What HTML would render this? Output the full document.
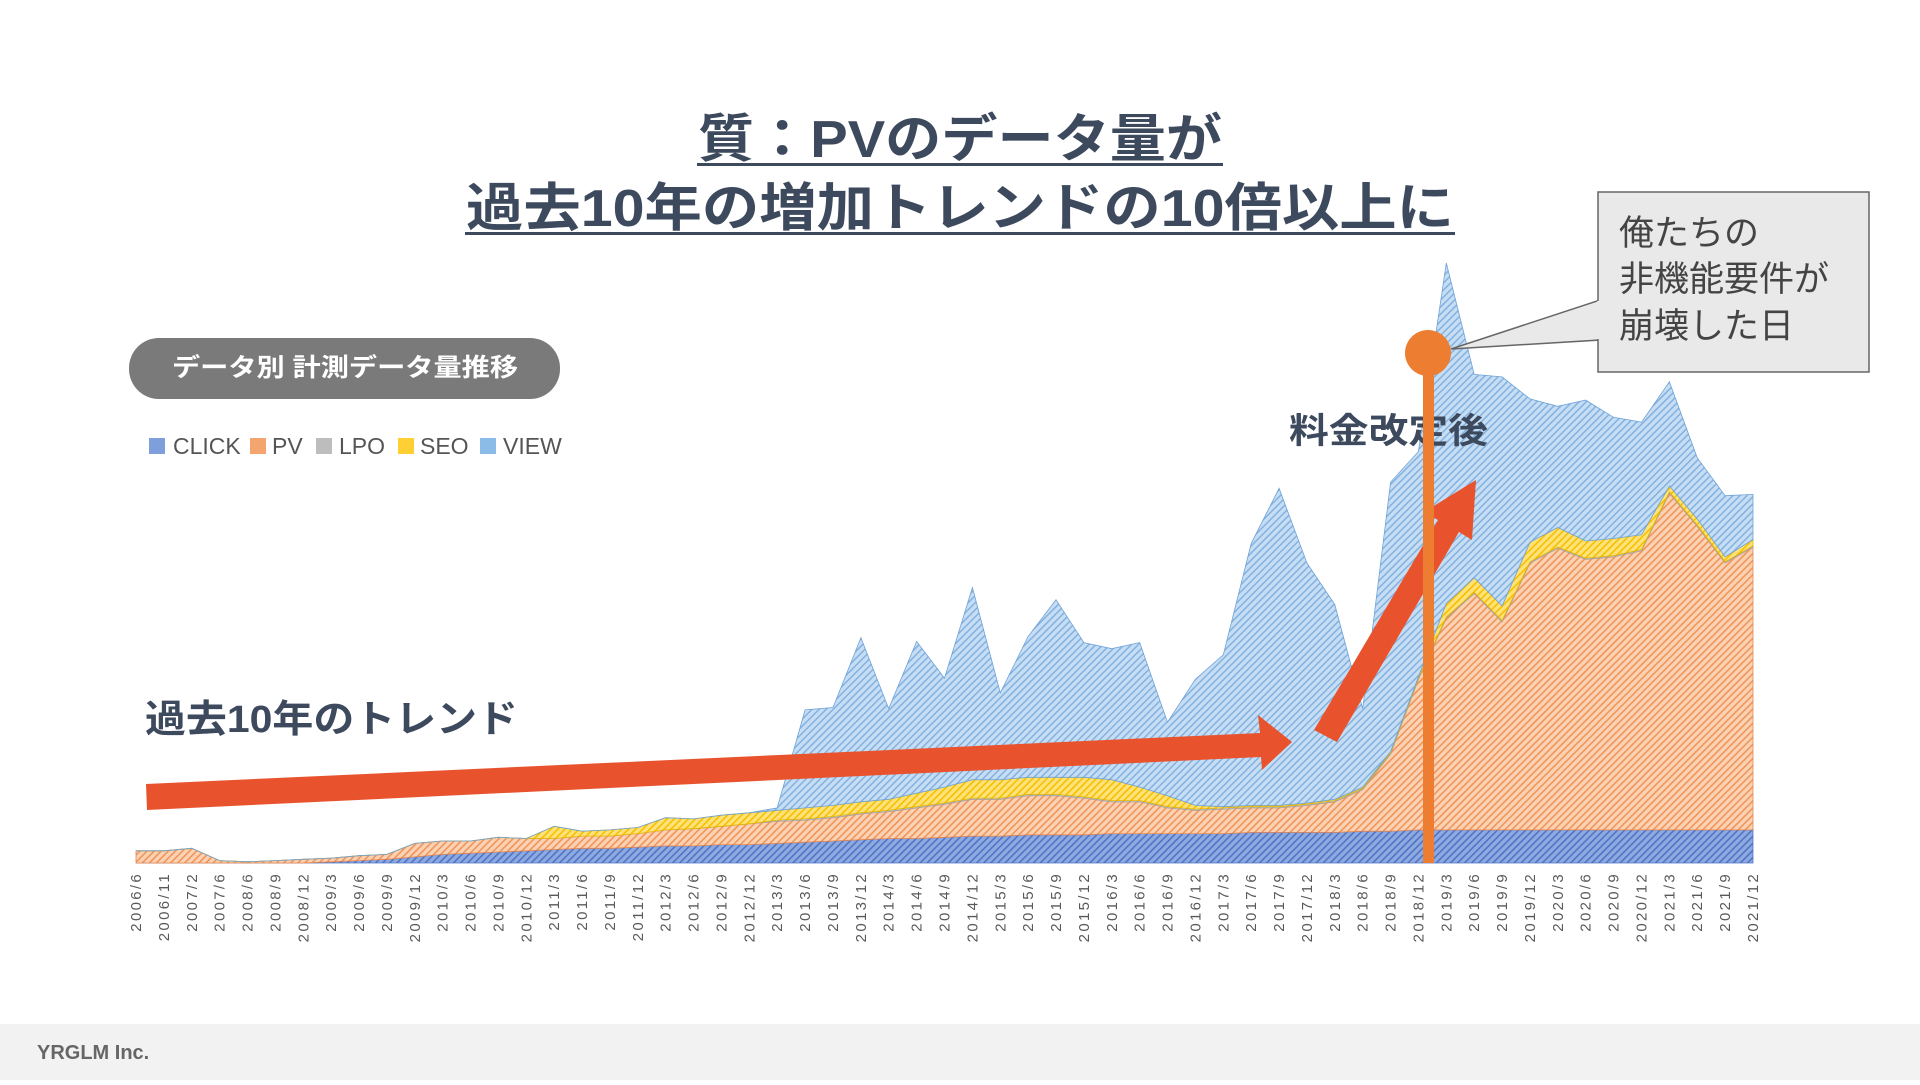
<!DOCTYPE html>
<html><head><meta charset="utf-8"><style>
html,body{margin:0;padding:0;background:#fff;}
body{width:1920px;height:1080px;overflow:hidden;position:relative;font-family:"Liberation Sans","Noto Sans CJK JP",sans-serif;}
svg text{font-family:"Liberation Sans","Noto Sans CJK JP",sans-serif;}
</style></head><body>
<svg id="chart" width="1920" height="1080" viewBox="0 0 1920 1080" xmlns="http://www.w3.org/2000/svg">
<defs>
<pattern id="pClick" patternUnits="userSpaceOnUse" width="5" height="5" patternTransform="rotate(45)"><rect width="5" height="5" fill="#8eaadf"/><rect width="1.6" height="5" fill="#4f74c8"/></pattern>
<pattern id="pPv" patternUnits="userSpaceOnUse" width="5" height="5" patternTransform="rotate(45)"><rect width="5" height="5" fill="#fbd2b4"/><rect width="1.6" height="5" fill="#f0955a"/></pattern>
<pattern id="pLpo" patternUnits="userSpaceOnUse" width="5" height="5" patternTransform="rotate(45)"><rect width="5" height="5" fill="#d9d9d9"/><rect width="1.6" height="5" fill="#a5a5a5"/></pattern>
<pattern id="pSeo" patternUnits="userSpaceOnUse" width="5" height="5" patternTransform="rotate(45)"><rect width="5" height="5" fill="#ffe27a"/><rect width="1.6" height="5" fill="#f5c000"/></pattern>
<pattern id="pView" patternUnits="userSpaceOnUse" width="5" height="5" patternTransform="rotate(45)"><rect width="5" height="5" fill="#c6ddf3"/><rect width="1.5" height="5" fill="#82b2e1"/></pattern>
</defs>
<rect x="0" y="1024" width="1920" height="56" fill="#f2f2f2"/>
<text x="37" y="1059" font-size="20" font-weight="bold" fill="#666">YRGLM Inc.</text>
<g fill="#3d4a5e" font-weight="bold" font-size="52">
<text x="698" y="157" textLength="524" lengthAdjust="spacingAndGlyphs">質：PVのデータ量が</text>
<rect x="697" y="163" width="526" height="3" fill="#3d4a5e"/>
<text x="466" y="226" textLength="988" lengthAdjust="spacingAndGlyphs">過去10年の増加トレンドの10倍以上に</text>
<rect x="465" y="232" width="990" height="3" fill="#3d4a5e"/>
</g>
<g>
<rect x="129" y="338" width="431" height="61" rx="30" fill="#7a7a7a"/>
<text x="172" y="376" textLength="346" lengthAdjust="spacingAndGlyphs" font-size="25" font-weight="bold" fill="#fff">データ別 計測データ量推移</text>
</g>
<g id="legend" font-size="23" fill="#555"></g>
<g id="areas"></g>
<g id="xlabels" font-size="15" fill="#595959"></g>
<text x="145" y="732" textLength="373" lengthAdjust="spacingAndGlyphs" font-size="38" font-weight="bold" fill="#3d4a5e">過去10年のトレンド</text>
<g fill="#e8532e">
<polygon points="146,784 1260,733 1258,715 1292,742 1262,770 1261,757 147,810"/>
</g>
<g fill="#e8532e">
<polygon points="1314,730 1438,520 1424,512 1476,480 1472,540 1459,532 1337,742"/>
</g>
<text x="1289" y="443" textLength="199" lengthAdjust="spacingAndGlyphs" font-size="35" font-weight="bold" fill="#3d4a5e">料金改定後</text>
<g>
<rect x="1423" y="355" width="11" height="508" fill="#ed7d31"/>
<circle cx="1428" cy="353" r="23" fill="#ed7d31"/>
</g>
<g>
<polygon points="1451,349 1600,300 1600,340" fill="#e9e9e9" stroke="#666" stroke-width="1.5"/>
<rect x="1598" y="192" width="271" height="180" fill="#e9e9e9" stroke="#666" stroke-width="1.5"/>
<rect x="1597" y="301" width="4" height="38" fill="#e9e9e9"/>
<text x="1619" y="245" font-size="35" fill="#444">俺たちの</text>
<text x="1619" y="291" font-size="35" fill="#444">非機能要件が</text>
<text x="1619" y="338" font-size="35" fill="#444">崩壊した日</text>
</g>
</svg>
<script>
const categories=["2006/6","2006/11","2007/2","2007/6","2008/6","2008/9","2008/12","2009/3","2009/6","2009/9","2009/12","2010/3","2010/6","2010/9","2010/12","2011/3","2011/6","2011/9","2011/12","2012/3","2012/6","2012/9","2012/12","2013/3","2013/6","2013/9","2013/12","2014/3","2014/6","2014/9","2014/12","2015/3","2015/6","2015/9","2015/12","2016/3","2016/6","2016/9","2016/12","2017/3","2017/6","2017/9","2017/12","2018/3","2018/6","2018/9","2018/12","2019/3","2019/6","2019/9","2019/12","2020/3","2020/6","2020/9","2020/12","2021/3","2021/6","2021/9","2021/12"];
const clickValues=[0,0,0,0,0,0,0,1,2,3,5,7,8,9,10,11,12,12,13,14,14,15,15,16,17,18,19,20,20,21,22,22,23,23,23,24,24,24,24,24,25,25,25,25,26,26,27,27,27,27,27,27,27,27,27,27,27,27,27];
const pvValues=[10,10,12,2,1,2,3,3,4,4,11,11,10,12,10,9,10,10,11,13,14,15,17,18,18,19,21,22,25,27,30,30,32,32,30,26,26,21,19,20,20,20,22,25,34,63,123,173,193,170,218,230,221,223,228,275,248,218,231];
const lpoValues=[0,0,0,0,0,0,0,0,0,0,0,0,0,0,0,0,0,0,0,0,0,0,0,1,1,1,1,1,1,1,1,1,1,1,1,1,1,1,1,1,1,1,1,1,1,1,1,1,1,1,1,1,1,1,1,1,1,1,1];
const seoValues=[0,0,0,0,0,0,0,0,0,0,0,0,0,0,0,10,4,5,5,10,8,9,9,8,9,9,9,9,11,13,15,15,14,14,16,17,11,9,3,1,1,1,1,1,1,1,1,11,12,12,16,16,14,14,12,5,5,4,5];
const viewValues=[0,0,0,0,0,0,0,0,0,0,0,0,0,0,0,0,0,0,0,0,0,0,0,2,80,80,134,74,124,89,157,71,115,145,110,107,118,60,103,124,214,259,196,159,64,220,184,278,166,187,117,99,115,99,92,85,50,50,37];
const seriesNames=["CLICK","PV","LPO","SEO","VIEW"];
const NS="http://www.w3.org/2000/svg";
const X0=136,X1=1753,BASE=863,PX=1.2245;
function xScale(i){return X0+(X1-X0)*i/(categories.length-1);}
function yScale(v){return BASE-v*PX;}
const series=[clickValues,pvValues,lpoValues,seoValues,viewValues];
const fills=["url(#pClick)","url(#pPv)","url(#pLpo)","url(#pSeo)","url(#pView)"];
const strokes=["#4f74c8","#e9874c","#a5a5a5","#e5b400","#6fa3d8"];
const swatch=["#7f9fdc","#f4a46e","#bdbdbd","#ffcf33","#8bbbe7"];
const areas=document.getElementById('areas');
let cum=categories.map(()=>0);
series.forEach((vals,s)=>{
  const lower=cum.slice();
  const upper=cum.map((c,i)=>c+vals[i]);
  let d="";
  upper.forEach((u,i)=>{d+=(i?"L":"M")+xScale(i).toFixed(1)+","+yScale(u).toFixed(1);});
  for(let i=lower.length-1;i>=0;i--){d+="L"+xScale(i).toFixed(1)+","+yScale(lower[i]).toFixed(1);}
  d+="Z";
  const p=document.createElementNS(NS,"path");
  
  
  p.setAttribute("d",d);p.setAttribute("fill",fills[s]);
  p.setAttribute("stroke",strokes[s]);p.setAttribute("stroke-width","0.8");
  areas.appendChild(p);
  cum=upper;
});
const xl=document.getElementById('xlabels');
categories.forEach((c,i)=>{
  const t=document.createElementNS(NS,"text");
  
  
  const x=xScale(i)+5,y=872;
  t.setAttribute("transform","translate("+x+","+y+") rotate(-90)");
  t.setAttribute("text-anchor","end");
  t.setAttribute("letter-spacing","2.3");
  t.textContent=c;xl.appendChild(t);
});
const lg=document.getElementById('legend');
const sqX=[149,250,316,398,480],txX=[173,272,339,420,503];
seriesNames.forEach((n,i)=>{
  const r=document.createElementNS(NS,"rect");
  
  
  r.setAttribute("x",sqX[i]);r.setAttribute("y",438);r.setAttribute("width",16);r.setAttribute("height",16);r.setAttribute("fill",swatch[i]);
  lg.appendChild(r);
  const t=document.createElementNS(NS,"text");
  
  
  t.setAttribute("x",txX[i]);t.setAttribute("y",454);t.textContent=n;
  lg.appendChild(t);
});
</script>
</body></html>
